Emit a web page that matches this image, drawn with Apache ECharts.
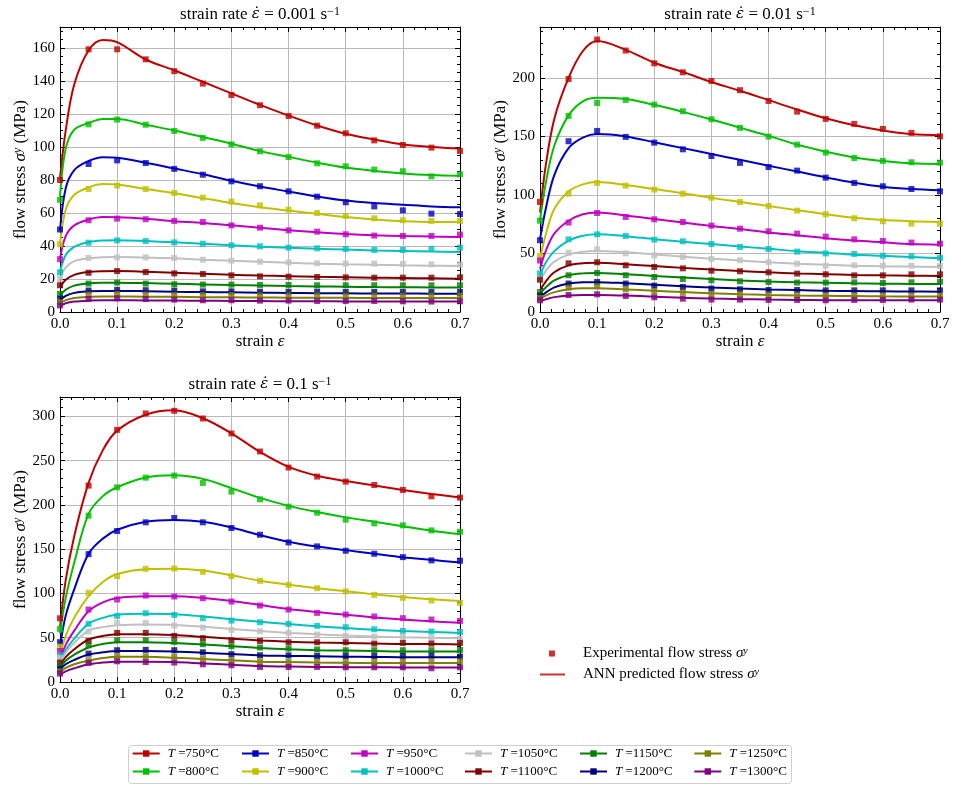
<!DOCTYPE html>
<html>
<head>
<meta charset="utf-8">
<script src="https://cdn.jsdelivr.net/npm/echarts@6/dist/echarts.min.js"></script>
<style>
  html, body { margin: 0; padding: 0; background: #fff; }
  #chart { width: 954px; height: 785px; }
</style>
</head>
<body>
<div id="chart"></div>
<script>
// Hot-deformation flow curves: experimental points and ANN fits at three strain rates.
const temperatures = ['750', '800', '850', '900', '950', '1000', '1050', '1100', '1150', '1200', '1250', '1300'];
const colors = ['#c00000', '#00c000', '#0000c0', '#c0c000', '#c000c0', '#00c0c0',
                '#c0c0c0', '#800000', '#008000', '#000080', '#808000', '#800080'];
const strainRates = ['0.001', '0.01', '0.1'];

// strains where the flow stress was measured
const strainExp = [0, 0.05, 0.1, 0.15, 0.2, 0.25, 0.3, 0.35, 0.4, 0.45, 0.5, 0.55, 0.6, 0.65, 0.7];
// strains where the network prediction is sampled
const strainFit = [0, 0.01, 0.025, 0.05, 0.075, 0.1, 0.15, 0.2, 0.25, 0.3, 0.35, 0.4, 0.45, 0.5, 0.55, 0.6, 0.65, 0.7];

// strain rate 0.001 1/s, experimental (MPa)
const exp001 = [
  [80, 159.2, 159.2, 153.1, 145.9, 138.4, 131.5, 125.3, 118.8, 112.9, 108.3, 104.0, 101.2, 99.6, 97.6],
  [68, 113.7, 116.6, 113.5, 109.7, 105.5, 101.6, 97.4, 93.9, 90.1, 88.3, 86.3, 85.3, 82.2, 83.4],
  [50, 89.7, 91.9, 90.3, 86.7, 83.2, 79.2, 76.2, 73.1, 69.9, 66.5, 64.0, 61.6, 59.6, 59.4],
  [41, 74.5, 76.6, 74.5, 72.1, 69.3, 66.9, 64.6, 62.0, 60.0, 58.2, 56.8, 55.6, 55.2, 55.2],
  [32, 55.6, 56.6, 56.2, 55.2, 54.5, 52.5, 51.1, 49.5, 48.7, 47.1, 46.3, 46.1, 46.1, 46.9],
  [24, 42.0, 43.4, 43.0, 42.2, 41.4, 40.4, 39.8, 39.0, 38.6, 38.2, 37.6, 37.6, 38.2, 39.0],
  [20, 32.7, 33.1, 33.1, 32.7, 31.7, 31.1, 30.5, 30.1, 29.5, 29.3, 29.3, 29.1, 28.9, 28.7],
  [16.2, 23.8, 24.8, 24.2, 23.4, 23.0, 22.2, 21.6, 21.4, 21.2, 21.0, 20.8, 20.8, 20.8, 21.0],
  [11, 17.2, 17.8, 17.2, 16.8, 16.6, 16.6, 16.4, 16.4, 16.2, 16.2, 16.2, 16.2, 16.2, 16.2],
  [8, 13.0, 13.4, 13.2, 12.9, 12.5, 12.5, 12.3, 12.3, 12.3, 12.1, 12.1, 12.1, 12.1, 12.1],
  [6, 10.6, 10.9, 10.6, 10.4, 10.3, 10.3, 10.1, 10.1, 10.1, 9.9, 9.9, 9.9, 9.9, 9.9],
  [4, 7.9, 8.3, 7.9, 7.5, 7.1, 7.1, 6.9, 6.9, 6.7, 6.7, 6.7, 6.5, 6.3, 6.5]
];
// strain rate 0.001 1/s, ANN prediction (MPa)
const fit001 = [
  [81, 110, 138, 158.5, 164.8, 163.5, 153, 146.5, 139.5, 132.5, 125.5, 119, 113, 108, 104.5, 101.5, 100, 99],
  [70, 99, 110.5, 114.5, 117, 117, 113.5, 110, 106, 102, 97.5, 94, 90.5, 87.5, 85.5, 84, 83, 82.5],
  [49.5, 75, 86, 91.5, 93.8, 93.5, 90.5, 87, 83.5, 79.5, 76, 73, 70, 67.5, 66, 65, 64, 63.5],
  [41.4, 62, 71, 75.5, 77.5, 77.2, 74.5, 72, 69, 66, 63.5, 61.5, 59.5, 57.5, 56, 55, 54.5, 54.5],
  [32.3, 46, 52.5, 56, 57.5, 57.4, 56.5, 55, 54, 52.5, 51, 49.5, 48.3, 47.3, 46.5, 46, 45.7, 45.5],
  [24.2, 34.5, 39.5, 42.3, 43.3, 43.5, 43, 42.2, 41.3, 40.4, 39.6, 38.9, 38.3, 37.8, 37.3, 37, 36.7, 36.4],
  [20.2, 27, 30.8, 32.6, 33.2, 33.3, 33, 32.5, 31.7, 31, 30.4, 29.8, 29.3, 28.9, 28.6, 28.3, 28.1, 27.9],
  [15, 19.5, 22.5, 24.2, 24.7, 24.8, 24.4, 23.8, 23.2, 22.6, 22.1, 21.7, 21.3, 21, 20.8, 20.6, 20.4, 20.2],
  [10, 13.5, 16, 17.3, 17.7, 17.8, 17.5, 17.1, 16.7, 16.3, 16, 15.7, 15.5, 15.3, 15.1, 15, 14.9, 14.8],
  [7, 9.8, 11.6, 12.5, 12.8, 12.8, 12.6, 12.3, 12.1, 11.9, 11.7, 11.5, 11.4, 11.3, 11.2, 11.2, 11.1, 11.1],
  [5, 7.2, 8.5, 9.2, 9.4, 9.4, 9.3, 9.2, 9.0, 8.9, 8.8, 8.7, 8.6, 8.6, 8.5, 8.5, 8.5, 8.5],
  [3.5, 5.3, 6.3, 6.9, 7.1, 7.1, 7.0, 6.9, 6.8, 6.7, 6.6, 6.5, 6.5, 6.4, 6.4, 6.3, 6.3, 6.3]
];

// strain rate 0.01 1/s, experimental (MPa)
const exp01 = [
  [94, 199.1, 232.8, 223.4, 212.5, 204.8, 197.4, 189.5, 180.3, 171.2, 165.0, 160.7, 156.4, 153.0, 150.1],
  [78, 167.5, 178.6, 181.2, 177.2, 171.5, 164.7, 157.3, 149.9, 143.0, 136.2, 131.6, 129.1, 127.9, 127.6],
  [61.3, 145.9, 154.7, 149.6, 144.7, 139.0, 133.3, 127.4, 123.9, 120.8, 114.8, 110.3, 107.4, 105.1, 103.1],
  [48, 101.1, 110.3, 108.0, 104.6, 101.1, 97.7, 94.0, 90.6, 86.6, 83.5, 80.1, 77.5, 75.5, 75.5],
  [44, 76.4, 84.6, 81.2, 79.2, 76.9, 73.8, 71.2, 68.9, 67.0, 64.4, 62.1, 60.7, 59.3, 58.4],
  [33, 62.1, 66.4, 65.0, 61.8, 60.4, 58.1, 55.6, 53.8, 51.6, 50.1, 49.6, 48.1, 47.6, 46.2],
  [28, 50.7, 53.6, 50.1, 48.4, 47.0, 45.3, 44.2, 42.5, 41.3, 39.6, 39.9, 39.6, 39.6, 39.3],
  [27.6, 41.6, 42.5, 39.9, 38.5, 37.3, 35.3, 34.8, 33.9, 32.8, 32.2, 31.3, 31.3, 32.2, 32.2],
  [17, 31.4, 33.4, 31.4, 29.9, 28.2, 27.1, 26.2, 25.6, 25.1, 25.1, 25.3, 24.8, 25.4, 25.9],
  [14, 24.3, 25.6, 24.3, 22.5, 21.4, 20.0, 19.4, 18.8, 18.8, 18.5, 18.5, 18.5, 18.5, 18.5],
  [12, 20.8, 22.0, 19.4, 17.7, 16.6, 15.1, 15.1, 14.5, 14.5, 14.2, 14.2, 14.0, 14.0, 14.0],
  [10, 14.5, 15.1, 13.7, 12.6, 11.4, 10.6, 10.6, 10.3, 10.3, 10.0, 10.3, 10.3, 10.6, 10.6]
];
// strain rate 0.01 1/s, ANN prediction (MPa)
const fit01 = [
  [85, 125, 165, 200, 223, 231.5, 224, 213, 205, 196.5, 189, 181, 173, 165.5, 159.5, 155, 152, 151],
  [78, 110, 142, 168, 180, 183, 182, 177, 171, 164.5, 157.5, 150.5, 143, 137, 132, 129, 127, 126.5],
  [62, 88, 117, 140, 149, 152, 150, 145, 140, 135, 130, 125, 120, 115, 110.5, 107, 105, 104],
  [45, 66, 88, 103, 109, 111, 108.5, 105, 101.5, 97.5, 94, 90.5, 87, 83.5, 80.5, 78.5, 77.5, 77],
  [37, 52, 67, 78, 83.5, 85, 82.5, 79.5, 76.5, 73.5, 71, 68, 65.5, 63, 61, 59.5, 58, 57.5],
  [31.3, 42, 52, 61, 65.2, 66.5, 64.8, 62.2, 60, 58, 56, 54, 52, 50.5, 49, 48, 47, 45.9],
  [27, 35, 43, 49, 51.5, 52.2, 51, 49.2, 47.3, 45.6, 44, 42.5, 41.3, 40.3, 39.6, 39.1, 38.8, 38.5],
  [18.5, 26, 34, 39.8, 41.6, 42, 40.8, 39.2, 37.7, 36.3, 35, 33.9, 33, 32.3, 31.7, 31.3, 31, 30.8],
  [15.7, 21, 27, 31.5, 33, 33.3, 32.2, 30.8, 29.4, 28.1, 27, 26.1, 25.4, 24.9, 24.5, 24.2, 24, 23.9],
  [12.5, 16.5, 21, 24.3, 25.4, 25.5, 24.6, 23.3, 22, 20.9, 20, 19.3, 18.7, 18.2, 17.9, 17.7, 17.5, 17.4],
  [11, 14, 17, 19.5, 20.2, 20.2, 19.3, 18.1, 17, 16, 15.2, 14.6, 14.1, 13.8, 13.6, 13.4, 13.3, 13.3],
  [9, 10.8, 12.7, 14.2, 14.6, 14.6, 14, 13.1, 12.2, 11.5, 11, 10.6, 10.3, 10.1, 10, 10, 10, 10]
];

// strain rate 0.1 1/s, experimental (MPa)
const exp1 = [
  [72, 221.9, 284.9, 303.4, 306.4, 297.7, 280.8, 260.4, 242.3, 232.1, 226.4, 222.6, 217.0, 209.8, 208.3],
  [60, 187.9, 220.0, 230.9, 233.2, 224.9, 215.1, 206.4, 198.1, 191.3, 183.4, 179.2, 177.0, 171.3, 169.8],
  [45, 144.5, 170.6, 180.4, 185.3, 180.4, 174.0, 166.4, 157.7, 153.2, 148.3, 144.9, 141.1, 137.4, 137.0],
  [40, 100.8, 119.6, 127.9, 128.3, 124.5, 119.6, 114.3, 109.8, 106.0, 102.3, 98.5, 95.1, 92.1, 89.4],
  [35, 81.9, 93.2, 97.7, 96.6, 94.7, 90.9, 86.4, 81.9, 78.1, 76.2, 74.0, 72.1, 70.6, 69.1],
  [30, 65.7, 74.7, 77.7, 75.8, 72.1, 69.4, 67.5, 65.7, 63.4, 61.9, 59.6, 57.7, 57.0, 56.6],
  [27, 57.0, 66.8, 66.8, 63.8, 61.5, 58.9, 57.4, 55.5, 53.6, 52.1, 51.3, 51.3, 49.8, 48.7],
  [22, 46.4, 55.5, 55.5, 52.1, 49.5, 47.2, 46.4, 44.9, 44.9, 44.9, 43.4, 44.2, 43.4, 44.2],
  [18, 41.5, 47.2, 47.2, 45.3, 42.7, 40.4, 38.9, 37.8, 36.7, 35.9, 35.9, 35.9, 35.9, 36.3],
  [15, 32.1, 35.9, 36.3, 35.9, 33.6, 31.4, 30.2, 30.0, 29.4, 29.4, 29.4, 29.4, 29.8, 28.7],
  [12, 24.6, 29.1, 29.1, 28.7, 26.5, 24.6, 23.4, 22.6, 22.6, 22.6, 23.0, 23.0, 23.0, 23.4],
  [9.5, 21.5, 23.4, 22.6, 22.0, 20.0, 18.9, 17.0, 17.0, 17.0, 16.6, 16.6, 16.6, 15.5, 16.6]
];
// strain rate 0.1 1/s, ANN prediction (MPa)
const fit1 = [
  [62, 115, 165, 225, 262, 284, 302, 307, 298, 281, 260, 243, 233, 227, 222, 217, 212.5, 208.5],
  [55, 95, 135, 190, 210, 220, 231, 233.5, 229.5, 219, 208, 199, 192, 186, 181, 176, 171, 167],
  [40, 75, 105, 145, 162, 172, 181, 183, 181, 174.5, 166, 158.5, 153, 149, 145, 141, 138, 135],
  [30, 52, 73, 97, 113, 122, 127.5, 128, 126, 120.5, 114.5, 110, 106, 102.5, 99, 96, 93.5, 91.5],
  [25, 42, 58, 80, 90, 95, 97, 97, 95, 91.5, 87, 82.5, 79, 76, 73, 70.5, 68.5, 67],
  [22, 36, 49, 66, 72.5, 76, 77, 76.5, 74, 71, 68, 65.5, 63, 61, 59, 57.5, 56.5, 55.5],
  [20, 33, 44, 58, 62, 64, 65, 64.5, 62.5, 60, 57.5, 55.5, 54, 52.5, 51.5, 50.5, 50, 49.5],
  [18, 28, 37, 48, 52, 54, 54, 53, 51, 49, 47, 45.5, 44.5, 44, 43.5, 43, 43, 42.5],
  [16, 24, 31, 39, 43, 45, 45, 44, 42.5, 40.5, 38.5, 37, 36, 35.5, 35, 34.5, 34.5, 34.5],
  [14, 20, 25, 31, 33.5, 35, 35, 34.5, 33, 31.5, 30, 29.5, 29, 28.5, 28.3, 28, 28, 28],
  [11, 16, 20, 24, 27, 28.5, 28.5, 27.5, 26, 24.5, 23, 22.5, 22, 21.7, 21.5, 21.5, 21.5, 21.5],
  [8, 12, 15.5, 20, 22, 23, 23, 22.5, 21, 19.5, 18, 17.5, 17, 16.8, 16.6, 16.5, 16.5, 16.5]
];

// y-axis ranges and tick steps per strain rate
const yMax = [172.7, 243.5, 322];
const yMajor = [20, 50, 50];
const yMinor = [5, 10, 10];

const SERIF = '"Liberation Serif", "Times New Roman", serif';
const expSets = [exp001, exp01, exp1];
const fitSets = [fit001, fit01, fit1];
const tempNames = temperatures.map(t => 'T =' + t + '°C');
const expName = 'Experimental flow stress';
const annName = 'ANN predicted flow stress';

const rich = {
  n: { fontFamily: SERIF, fontSize: 17, fontWeight: 'normal', color: '#000' },
  i: { fontFamily: SERIF, fontSize: 17, fontWeight: 'normal', fontStyle: 'italic', color: '#000' },
  e: { fontFamily: '"DejaVu Serif", serif', fontSize: 15, fontWeight: 'normal', fontStyle: 'italic', color: '#000' },
  s: { fontFamily: SERIF, fontSize: 12, fontWeight: 'normal', color: '#000', verticalAlign: 'top', lineHeight: 10 },
  si: { fontFamily: SERIF, fontSize: 12, fontWeight: 'normal', fontStyle: 'italic', color: '#000', verticalAlign: 'top', lineHeight: 10 }
};

const grids = [
  { left: 60, top: 27, width: 400, height: 285 },
  { left: 540, top: 27, width: 400, height: 285 },
  { left: 60, top: 397, width: 400, height: 285 }
].map(g => Object.assign({ outerBoundsMode: 'none', containLabel: false }, g));

const black = { color: '#000', width: 1 };
const xAxes = [];
const yAxes = [];
grids.forEach((g, p) => {
  xAxes.push({
    type: 'value', gridIndex: p, min: 0, max: 0.7, interval: 0.1, position: 'bottom',
    axisLine: { show: true, onZero: false, lineStyle: black },
    axisTick: { show: true, inside: true, length: 5, lineStyle: black },
    minorTick: { show: true, splitNumber: 5, length: 3, lineStyle: black },
    splitLine: { show: true, lineStyle: { color: '#b9b9b9', width: 1 } },
    axisLabel: { margin: 5, color: '#000', fontFamily: SERIF, fontSize: 15, formatter: v => v.toFixed(1) },
    name: '{n|strain }{i|ε}', nameLocation: 'middle', nameGap: 20,
    nameTextStyle: { rich: rich }
  });
});
grids.forEach((g, p) => {
  xAxes.push({
    type: 'value', gridIndex: p, min: 0, max: 0.7, interval: 0.1, position: 'top',
    axisLine: { show: true, onZero: false, lineStyle: black },
    axisTick: { show: true, inside: true, length: 5, lineStyle: black },
    minorTick: { show: true, splitNumber: 5, length: 3, lineStyle: black },
    splitLine: { show: false }, axisLabel: { show: false }
  });
});
grids.forEach((g, p) => {
  yAxes.push({
    type: 'value', gridIndex: p, min: 0, max: yMax[p], interval: yMajor[p], position: 'left',
    axisLine: { show: true, onZero: false, lineStyle: black },
    axisTick: { show: true, inside: true, length: 5, lineStyle: black },
    splitLine: { show: true, lineStyle: { color: '#b9b9b9', width: 1 } },
    axisLabel: { margin: 5, color: '#000', fontFamily: SERIF, fontSize: 15, showMaxLabel: false,
                 formatter: v => (v % yMajor[p] === 0 ? String(v) : '') },
    name: '{n|flow stress }{i|σ}{si|y}{n| (MPa)}', nameLocation: 'middle', nameGap: 31, nameRotate: 90,
    nameTextStyle: { rich: rich }
  });
});
grids.forEach((g, p) => {
  yAxes.push({
    type: 'value', gridIndex: p, min: 0, max: yMax[p], interval: yMajor[p], position: 'right',
    axisLine: { show: true, onZero: false, lineStyle: black },
    axisTick: { show: true, inside: true, length: 5, lineStyle: black },
    splitLine: { show: false }, axisLabel: { show: false }
  });
});
// minor ticks on both vertical edges
grids.forEach((g, p) => {
  ['left', 'right'].forEach(side => {
    yAxes.push({
      type: 'value', gridIndex: p, min: 0, max: yMax[p], interval: yMinor[p], position: side,
      axisLine: { show: false, onZero: false },
      axisTick: { show: true, inside: true, length: 3, lineStyle: black },
      splitLine: { show: false }, axisLabel: { show: false }
    });
  });
});

const series = [];
grids.forEach((g, p) => {
  temperatures.forEach((t, k) => {
    series.push({
      type: 'line', name: tempNames[k], xAxisIndex: p, yAxisIndex: p,
      data: strainFit.map((s, j) => [s, fitSets[p][k][j]]),
      smooth: 0.35, showSymbol: false, symbol: 'rect', symbolSize: 6,
      color: colors[k], lineStyle: { width: 2 }, silent: true, z: 2
    });
    series.push({
      type: 'scatter', name: tempNames[k], xAxisIndex: p, yAxisIndex: p,
      data: strainExp.map((s, j) => [s, expSets[p][k][j]]),
      symbol: 'rect', symbolSize: 6, color: colors[k], silent: true, z: 3
    });
  });
});
// empty series that only feed the marker-type legend
series.push({ type: 'scatter', name: expName, xAxisIndex: 0, yAxisIndex: 0, data: [], color: '#c00000' });
series.push({ type: 'scatter', name: annName, xAxisIndex: 0, yAxisIndex: 0, data: [], color: '#c00000' });

const titles = strainRates.map((r, p) => ({
  text: '{n|strain rate }{e|ε̇}{n| = ' + r + ' s}{s|−1}',
  left: grids[p].left + grids[p].width / 2, top: grids[p].top - 21, textAlign: 'center', padding: 0,
  textStyle: { fontWeight: 'normal', rich: rich }
}));

const legendRich = {
  g: { width: 3 },
  n: { fontFamily: SERIF, fontSize: 13, color: '#000' },
  i: { fontFamily: SERIF, fontSize: 13, fontStyle: 'italic', color: '#000' }
};
const colLeft = [131.7, 241, 350, 464, 579, 693.3];
const legends = colLeft.map((x, c) => ({
  orient: 'vertical', left: x, top: 747, padding: 0,
  itemWidth: 27, itemHeight: 8, itemGap: 5, selectedMode: false,
  data: [tempNames[2 * c], tempNames[2 * c + 1]],
  formatter: name => '{g|}{i|T}{n|' + name.slice(1) + '}',
  textStyle: { rich: legendRich }
}));
const keyRich = {
  g1: { width: 23 },
  g2: { width: 13 },
  n: { fontFamily: SERIF, fontSize: 15, color: '#000' },
  i: { fontFamily: SERIF, fontSize: 15, fontStyle: 'italic', color: '#000' },
  si: { fontFamily: SERIF, fontSize: 10, fontStyle: 'italic', color: '#000', verticalAlign: 'top', lineHeight: 9 }
};
legends.push({
  orient: 'vertical', left: 549, top: 646, padding: 0, selectedMode: false,
  itemWidth: 6, itemHeight: 6,
  data: [{ name: expName, icon: 'rect' }],
  formatter: name => '{g1|}{n|' + name + ' }{i|σ}{si|y}', textStyle: { rich: keyRich }
});
legends.push({
  orient: 'vertical', left: 540, top: 667, padding: 0, selectedMode: false,
  itemWidth: 25, itemHeight: 2,
  data: [{ name: annName, icon: 'rect' }],
  formatter: name => '{g2|}{n|' + name + ' }{i|σ}{si|y}', textStyle: { rich: keyRich }
});

const chart = echarts.init(document.getElementById('chart'), null, { renderer: 'canvas' });
chart.setOption({
  backgroundColor: '#fff',
  animation: false,
  title: titles,
  grid: grids,
  xAxis: xAxes,
  yAxis: yAxes,
  legend: legends,
  graphic: [{
    type: 'rect', left: 128, top: 745, z: 0,
    shape: { width: 663, height: 38, r: 3 },
    style: { fill: '#fff', stroke: '#cfcfcf', lineWidth: 1 }
  }],
  series: series
});
</script>
</body>
</html>
